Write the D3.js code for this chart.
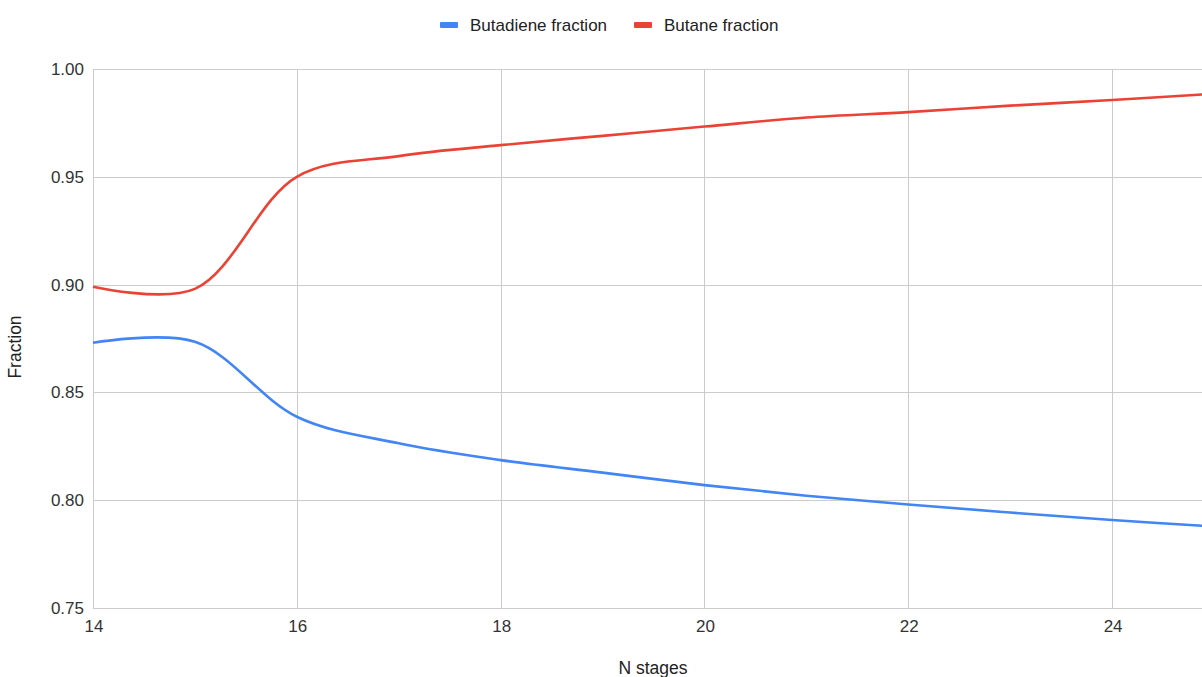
<!DOCTYPE html>
<html>
<head>
<meta charset="utf-8">
<script src="https://cdn.jsdelivr.net/npm/d3@7/dist/d3.min.js"></script>
<style>
  html, body { margin: 0; padding: 0; background: #fff; }
  svg { display: block; font-family: "Liberation Sans", Arial, sans-serif; }
</style>
</head>
<body>
<svg id="chart" width="1202" height="677"></svg>
<script>
const stages = [14, 15, 16, 17, 18, 19, 20, 21, 22, 23, 24, 25];
const butadiene = [0.873, 0.8735, 0.8387, 0.8264, 0.8186, 0.8128, 0.807, 0.8021, 0.798, 0.7943, 0.7908, 0.7878];
const butane = [0.899, 0.898, 0.950, 0.9596, 0.9647, 0.969, 0.9733, 0.9775, 0.980, 0.983, 0.9856, 0.9885];
const xTicks = [14, 16, 18, 20, 22, 24];
const yTicks = [0.75, 0.80, 0.85, 0.90, 0.95, 1.00];
const seriesNames = ["Butadiene fraction", "Butane fraction"];
const seriesColors = ["#4285F4", "#EA4335"];

const svg = d3.select("#chart");
const x = d3.scaleLinear().domain([14, 25]).range([93, 1214]);
const y = d3.scaleLinear().domain([0.75, 1.00]).range([608, 69]);

// gridlines
const grid = svg.append("g");
grid.selectAll("line.v").data(xTicks).join("line")
  .attr("x1", d => Math.round(x(d)) + 0.5).attr("x2", d => Math.round(x(d)) + 0.5)
  .attr("y1", y(1.0)).attr("y2", y(0.75))
  .attr("stroke", "#cccccc").attr("stroke-width", 1);
grid.selectAll("line.h").data(yTicks).join("line")
  .attr("x1", x(14)).attr("x2", 1202)
  .attr("y1", d => Math.round(y(d)) + 0.5).attr("y2", d => Math.round(y(d)) + 0.5)
  .attr("stroke", "#cccccc").attr("stroke-width", 1);

// axes (labels only)
const xAxis = d3.axisBottom(x).tickValues(xTicks).tickSize(0).tickPadding(12).tickFormat(d3.format("d"));
const gx = svg.append("g").attr("transform", `translate(0.5,${y(0.75)})`).call(xAxis);
gx.select(".domain").remove();
gx.selectAll("text").attr("fill", "#333").attr("font-size", 17).attr("font-family", "Liberation Sans, Arial, sans-serif");

const yAxis = d3.axisLeft(y).tickValues(yTicks).tickSize(0).tickPadding(9).tickFormat(d3.format(".2f"));
const gy = svg.append("g").attr("transform", `translate(${x(14)},0)`).call(yAxis);
gy.select(".domain").remove();
gy.selectAll("text").attr("fill", "#333").attr("font-size", 17).attr("font-family", "Liberation Sans, Arial, sans-serif");

// lines
const line = d3.line().x(d => x(d[0])).y(d => y(d[1])).curve(d3.curveCatmullRom.alpha(0.5));
const seriesData = [butadiene, butane];
const plot = svg.append("g");
seriesData.forEach((vals, i) => {
  plot.append("path")
    .datum(stages.map((s, j) => [s, vals[j]]))
    .attr("d", line)
    .attr("fill", "none")
    .attr("stroke", seriesColors[i])
    .attr("stroke-width", 2.6)
    .attr("stroke-linejoin", "round");
});

// axis titles
svg.append("text").attr("x", 653).attr("y", 674).attr("text-anchor", "middle")
  .attr("font-size", 17.5).attr("fill", "#222").text("N stages");
svg.append("text").attr("transform", "translate(21,347) rotate(-90)").attr("text-anchor", "middle")
  .attr("font-size", 17.5).attr("fill", "#222").text("Fraction");

// legend
const legendItems = [{ sx: 440, tx: 470 }, { sx: 634, tx: 664 }];
const legend = svg.append("g");
legendItems.forEach((p, i) => {
  legend.append("rect").attr("x", p.sx).attr("y", 22).attr("width", 18).attr("height", 6)
    .attr("rx", 1).attr("fill", seriesColors[i]);
  legend.append("text").attr("x", p.tx).attr("y", 31).attr("font-size", 17)
    .attr("fill", "#222").text(seriesNames[i]);
});
</script>
</body>
</html>
